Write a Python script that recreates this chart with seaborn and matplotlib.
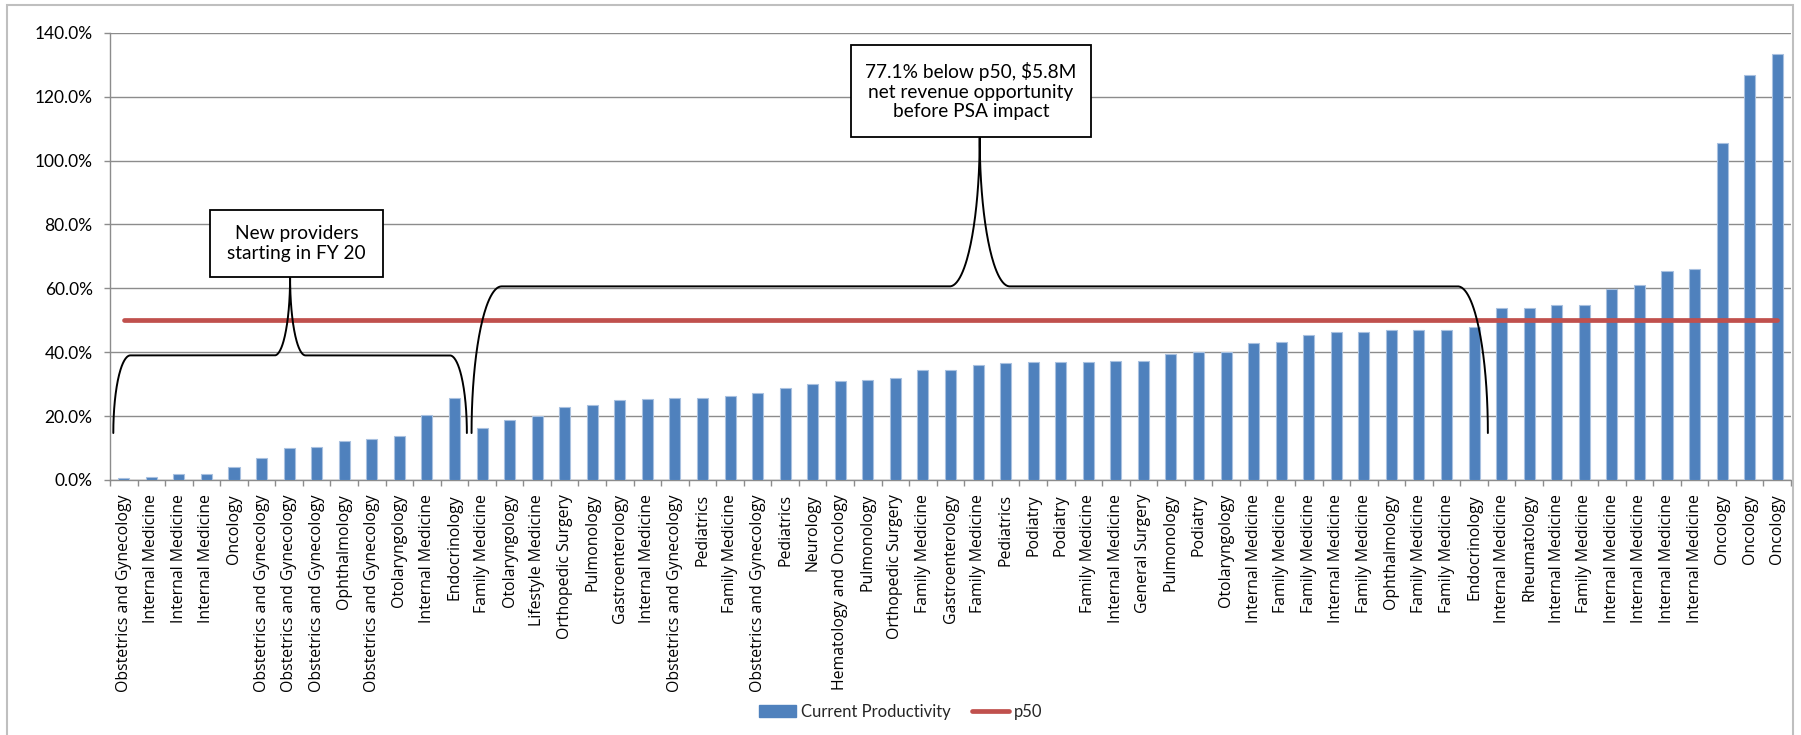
import numpy as np
import pandas as pd
import matplotlib
matplotlib.use("Agg")
import matplotlib.pyplot as plt
from matplotlib.patches import Rectangle, Patch
from matplotlib.lines import Line2D
import seaborn as sns

# Provider specialties, sorted by current productivity
specialties = [
    "Obstetrics and Gynecology", "Internal Medicine", "Internal Medicine", "Internal Medicine",
    "Oncology", "Obstetrics and Gynecology", "Obstetrics and Gynecology", "Obstetrics and Gynecology",
    "Ophthalmology", "Obstetrics and Gynecology", "Otolaryngology", "Internal Medicine",
    "Endocrinology", "Family Medicine", "Otolaryngology", "Lifestyle Medicine",
    "Orthopedic Surgery", "Pulmonology", "Gastroenterology", "Internal Medicine",
    "Obstetrics and Gynecology", "Pediatrics", "Family Medicine", "Obstetrics and Gynecology",
    "Pediatrics", "Neurology", "Hematology and Oncology", "Pulmonology",
    "Orthopedic Surgery", "Family Medicine", "Gastroenterology", "Family Medicine",
    "Pediatrics", "Podiatry", "Podiatry", "Family Medicine",
    "Internal Medicine", "General Surgery", "Pulmonology", "Podiatry",
    "Otolaryngology", "Internal Medicine", "Family Medicine", "Family Medicine",
    "Internal Medicine", "Family Medicine", "Ophthalmology", "Family Medicine",
    "Family Medicine", "Endocrinology", "Internal Medicine", "Rheumatology",
    "Internal Medicine", "Family Medicine", "Internal Medicine", "Internal Medicine",
    "Internal Medicine", "Internal Medicine", "Oncology", "Oncology", "Oncology",
]

# Current productivity (% of benchmark)
productivity = [
    0.5, 0.9, 1.9, 1.9, 4.0, 6.9, 9.9, 10.3, 12.1, 12.8, 13.8, 20.5, 25.7,
    16.3, 18.9, 19.9, 22.7, 23.5,
    25.0, 25.4, 25.8, 25.8, 26.3, 27.1, 28.9, 30.1, 30.9, 31.4, 31.8, 34.4, 34.4,
    36.0, 36.5, 36.9, 36.9, 36.9, 37.3, 37.3, 39.4, 40.0,
    40.0, 42.8, 43.2, 45.4, 46.3, 46.3, 47.1, 47.1, 47.1, 47.9, 53.9, 53.9,
    54.8, 54.8, 59.9, 61.1, 65.4, 65.9, 105.5, 126.9, 133.3,
]

p50_value = 50.0
y_ticks = [0, 20, 40, 60, 80, 100, 120, 140]

BLUE = "#4F81BD"
RED = "#C0504D"
GRID = "#8C8C8C"

sns.set_theme(style="white")
plt.rcParams["font.family"] = ["Lato", "DejaVu Sans"]

n = len(productivity)
pos = np.arange(n)
df = pd.DataFrame({"pos": pos, "value": productivity, "p50": np.full(n, p50_value)})

fig = plt.figure(figsize=(18.01, 7.35), dpi=100)
ax = fig.add_axes([110 / 1801, 1 - 480 / 735, (1791 - 110) / 1801, (480 - 32.7) / 735])

sns.barplot(data=df, x="pos", y="value", color=BLUE, width=0.4, saturation=1,
            edgecolor="#A9C1E0", linewidth=0.8, ax=ax, zorder=3)
sns.lineplot(data=df, x="pos", y="p50", color=RED, linewidth=3.4, ax=ax, zorder=4,
             solid_capstyle="round")

ax.set_xlim(-0.5, n - 0.5)
ax.set_ylim(0, 140)
ax.set_xlabel("")
ax.set_ylabel("")

# y axis
ax.set_yticks(y_ticks)
ax.set_yticklabels([f"{t:.1f}%" for t in y_ticks], fontsize=12.5, color="black")
ax.tick_params(axis="y", which="major", length=4.5, width=1, color=GRID, pad=8, left=True)
ax.yaxis.grid(True, color=GRID, linewidth=1.0, zorder=0)
ax.set_axisbelow(True)

# x axis: labels centered on bars, tick marks between bars
ax.set_xticks(pos)
ax.set_xticklabels(specialties, rotation=90, fontsize=11.4, color="black",
                   family=["Open Sans", "DejaVu Sans"])
ax.set_xticks(np.arange(-0.5, n, 1.0), minor=True)
ax.tick_params(axis="x", which="major", length=0, pad=10)
ax.tick_params(axis="x", which="minor", length=4.5, width=1, color=GRID, bottom=True)

for side in ["top", "right"]:
    ax.spines[side].set_visible(False)
for side in ["left", "bottom"]:
    ax.spines[side].set_color(GRID)
    ax.spines[side].set_linewidth(1.0)


def brace(ax, x0, x1, yb, yh, ytip, rx_end, rx_mid):
    """Curly brace from (x0, yb) to (x1, yb), flat at yh, pointing up to ytip."""
    t = np.linspace(0, np.pi / 2, 60)
    xc = (x0 + x1) / 2
    # left end corner
    lx1 = x0 + rx_end * (1 - np.cos(t))
    ly1 = yb + (yh - yb) * np.sin(t)
    # left half of the tip
    lx2 = xc - rx_mid * (1 - np.sin(t))
    ly2 = yh + (ytip - yh) * (1 - np.cos(t))
    left_x = np.concatenate([lx1, lx2])
    left_y = np.concatenate([ly1, ly2])
    right_x = 2 * xc - left_x[::-1]
    right_y = left_y[::-1]
    ax.plot(np.concatenate([left_x, right_x]), np.concatenate([left_y, right_y]),
            color="black", linewidth=1.4, zorder=6, solid_joinstyle="round")


def callout(ax, x0, x1, y0, y1, text):
    ax.add_patch(Rectangle((x0, y0), x1 - x0, y1 - y0, facecolor="white",
                           edgecolor="black", linewidth=1.3, zorder=7))
    ax.text((x0 + x1) / 2, (y0 + y1) / 2, text, ha="center", va="center",
            fontsize=13.8, linespacing=1.2, zorder=8, color="black")


brace(ax, -0.38, 12.45, 14.7, 39.0, 63.4, 0.62, 0.56)
brace(ax, 12.62, 49.5, 14.7, 60.6, 107.2, 1.09, 1.09)
callout(ax, 3.13, 9.41, 63.4, 84.4, "New providers\nstarting in FY 20")
callout(ax, 26.39, 35.1, 107.2, 136.25,
        "77.1% below p50, $5.8M\nnet revenue opportunity\nbefore PSA impact")

handles = [Patch(facecolor=BLUE, edgecolor=BLUE, label="Current Productivity"),
           Line2D([0], [0], color=RED, linewidth=3.4, label="p50")]
fig.legend(handles=handles, loc="center", bbox_to_anchor=(0.5, 1 - 712 / 735),
           ncol=2, frameon=False, fontsize=12, handlelength=2.2, handleheight=0.7,
           handletextpad=0.3, columnspacing=1.3)

# chart area border
fig.patches.append(Rectangle((7 / 1801, -0.01), (1793 - 7) / 1801, 1.01 - 5 / 735,
                             transform=fig.transFigure, fill=False,
                             edgecolor="#BFBFBF", linewidth=1.5))

fig.savefig("out.png", dpi=100, facecolor="white")
